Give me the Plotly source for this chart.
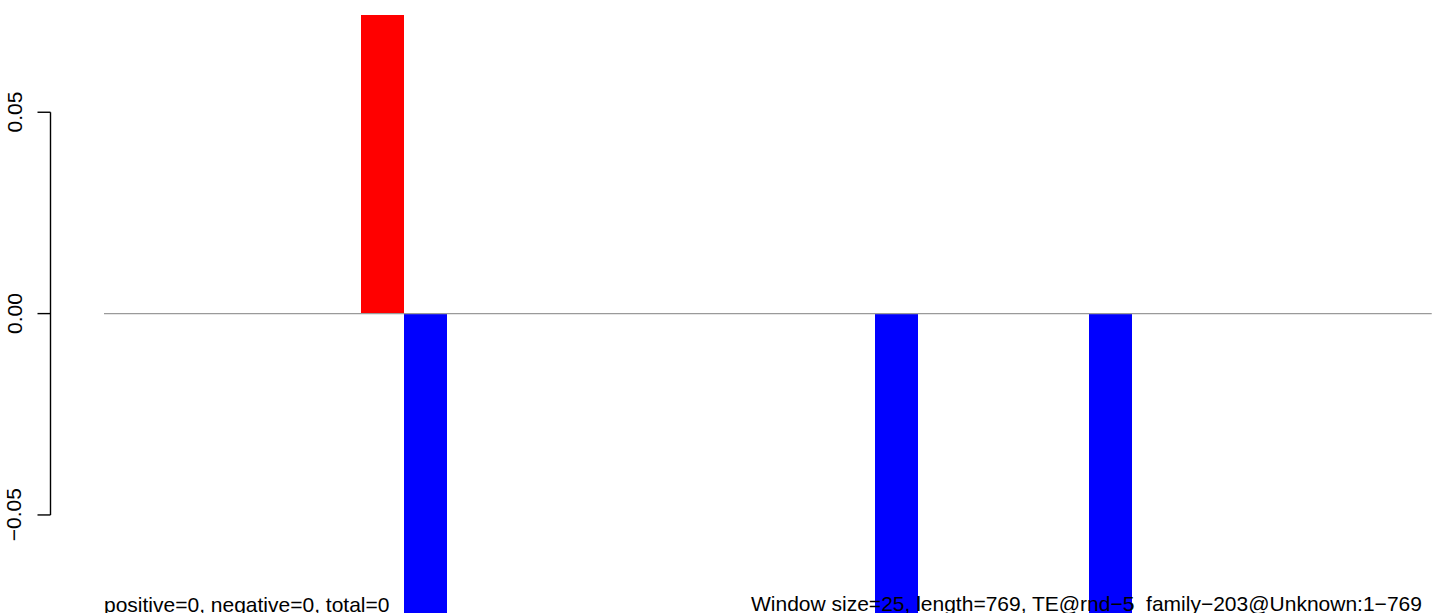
import plotly.graph_objects as go

# ---- data ----
windows = list(range(1, 32))  # 31 windows of size 25 over length 769
scores = [0, 0, 0, 0, 0, 0, 0.0741, -0.0745, 0, 0,
          0, 0, 0, 0, 0, 0, 0, 0, -0.0745, 0,
          0, 0, 0, -0.0745, 0, 0, 0, 0, 0, 0,
          0]
y_ticks = [-0.05, 0.0, 0.05]
y_tick_labels = ["\u22120.05", "0.00", "0.05"]
left_note = "positive=0, negative=0, total=0"
right_note = "Window size=25, length=769, TE@rnd\u22125_family\u2212203@Unknown:1\u2212769"

colors = ["red" if v > 0 else "blue" for v in scores]

W, H = 1433, 613
ML = 51
plot_w = W - ML
bar_px = 42.83
bar_start_px = 104
x0 = windows[0] - 0.5 - (bar_start_px - ML) / bar_px
x1 = x0 + plot_w / bar_px
px_per_unit = 4027.0
zero_px = 313.6
y_top = zero_px / px_per_unit
y_bot = -(H - zero_px) / px_per_unit

FONT = "Liberation Sans, Arial, Helvetica, sans-serif"

fig = go.Figure()
fig.add_trace(go.Bar(x=windows, y=scores, width=1.0,
                     marker=dict(color=colors, line=dict(width=0)),
                     hoverinfo="x+y"))

shapes = []
# zero line
shapes.append(dict(type="line", xref="x", yref="y", x0=windows[0] - 0.5, x1=windows[-1] + 0.5,
                   y0=0, y1=0, line=dict(color="#9A9A9A", width=1.2), layer="above"))


def px_to_paper(px):
    return (px - ML) / plot_w


# y axis line (R style: spans only the tick range)
shapes.append(dict(type="line", xref="paper", yref="y", x0=px_to_paper(50.5), x1=px_to_paper(50.5),
                   y0=min(y_ticks), y1=max(y_ticks), line=dict(color="black", width=1.4)))
annotations = []
for t, lab in zip(y_ticks, y_tick_labels):
    shapes.append(dict(type="line", xref="paper", yref="y", x0=px_to_paper(37.5), x1=px_to_paper(50.5),
                       y0=t, y1=t, line=dict(color="black", width=1.4)))
    annotations.append(dict(xref="paper", yref="y", x=px_to_paper(14.3), y=t, text=lab,
                            textangle=-90, showarrow=False, xanchor="center", yanchor="middle",
                            font=dict(family=FONT, size=21, color="black")))

annotations.append(dict(xref="paper", yref="paper", x=px_to_paper(103), y=0, text=left_note,
                        showarrow=False, xanchor="left", yanchor="bottom", yshift=-4, borderpad=0,
                        font=dict(family=FONT, size=21, color="black")))
annotations.append(dict(xref="paper", yref="paper", x=px_to_paper(1423), y=0, text=right_note,
                        showarrow=False, xanchor="right", yanchor="bottom", yshift=-4, borderpad=0,
                        font=dict(family=FONT, size=21, color="black")))

fig.update_layout(
    width=W, height=H,
    margin=dict(l=ML, r=0, t=0, b=0, pad=0),
    paper_bgcolor="white", plot_bgcolor="white",
    bargap=0, showlegend=False,
    xaxis=dict(range=[x0, x1], visible=False, fixedrange=True),
    yaxis=dict(range=[y_bot, y_top], visible=False, fixedrange=True),
    shapes=shapes, annotations=annotations,
)

fig.write_html("out.html", config={"displayModeBar": False},
               post_script="document.body.style.margin='0';document.body.style.overflow='hidden';")
